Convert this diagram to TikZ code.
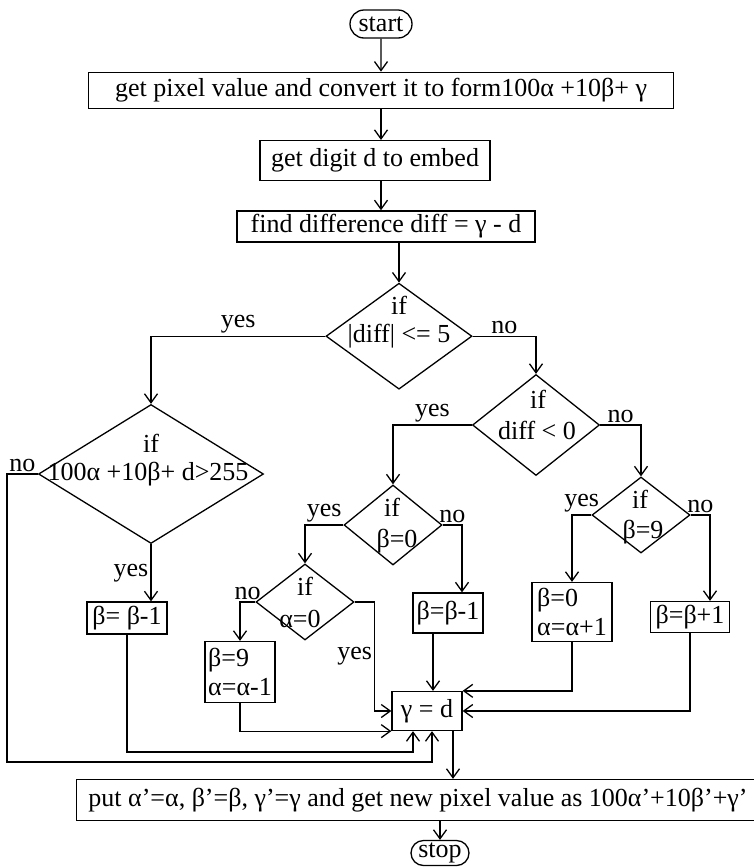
\documentclass[tikz,border=0pt]{standalone}
\usepackage{fontspec}
\setmainfont{Liberation Serif}
\usetikzlibrary{shapes.geometric,shapes.misc,arrows.meta,positioning,calc}

\begin{document}
\begin{tikzpicture}[
    x=1pt, y=-1pt,
    font=\fontsize{26}{29}\selectfont,
    box/.style={rectangle, draw, line width=1.3pt, inner sep=2pt, minimum height=32pt},
    term/.style={rounded rectangle, draw, line width=1.3pt, inner sep=2pt, minimum height=28pt},
    decision/.style={diamond, draw, line width=1.3pt, inner sep=0pt},
    cond/.style={inner sep=0pt},
    lbl/.style={inner sep=2pt},
    arrow/.style={-{Straight Barb[length=9pt,width=13pt]}, line width=1.3pt}
]
    \useasboundingbox (0,0) rectangle (754,868);

    % main column
    \node[term, minimum width=66pt] (start) at (381,24) {start};
    \node[box, below=33pt of start, minimum width=585pt, minimum height=36pt] (pixel) {get pixel value and convert it to form100α +10β+ γ};
    \node[box, below=31pt of pixel, xshift=-6pt, minimum width=230pt, minimum height=40pt] (digit) {get digit d to embed};
    \node[box, below=29pt of digit, xshift=11pt, minimum width=298pt, minimum height=31pt] (diff) {find difference diff = γ - d};
    \node[decision, below=40pt of diff, xshift=13pt, minimum width=146pt, minimum height=106pt] (small) {};
    \node[cond] (smallif) at ($(small)+(0,-31)$) {if};
    \node[cond] (smalltxt) at (small) {|diff| <= 5};

    % decisions
    \node[decision, minimum width=225pt, minimum height=139pt] (big) at (151,474) {};
    \node[cond] (bigif) at (151,443) {if};
    \node[cond] (bigtxt) at (148,474) {100α +10β+ d>255};
    \node[decision, minimum width=127pt, minimum height=101pt] (neg) at (536,425) {};
    \node[cond] (negif) at (538,399) {if};
    \node[cond] (negtxt) at (537,430) {diff < 0};
    \node[decision, minimum width=98pt, minimum height=80pt] (bzero) at (393,525) {};
    \node[cond] (bzeroif) at (392,507) {if};
    \node[cond] (bzerotxt) at (397,541) {β=0};
    \node[decision, minimum width=98pt, minimum height=76pt] (bnine) at (641,515) {};
    \node[cond] (bnineif) at (640,499) {if};
    \node[cond] (bninetxt) at (643,532) {β=9};
    \node[decision, minimum width=98pt, minimum height=76pt] (azero) at (305,602) {};
    \node[cond] (azeroif) at (305,586) {if};
    \node[cond] (azerotxt) at (300,619) {α=0};

    % assignments
    \node[box, minimum width=80pt] (decl) at (127,618) {β= β-1};
    \node[box, minimum width=70pt, minimum height=40pt] (decm) at (448,613) {β=β-1};
    \node[box, minimum width=70pt, minimum height=61pt, align=left] (wrap) at (240,672) {β=9\\α=α-1};
    \node[box, minimum width=80pt, minimum height=59pt, align=left] (carry) at (572,612) {β=0\\α=α+1};
    \node[box, minimum width=79pt, minimum height=31pt] (inc) at (690,617) {β=β+1};
    \node[box, minimum width=70pt, minimum height=39pt] (embed) at (427,711) {γ = d};
    \node[box, minimum width=683pt, minimum height=41pt] (newpix) at (418,800) {put α’=α, β’=β, γ’=γ and get new pixel value as 100α’+10β’+γ’};
    \node[term, minimum width=62pt, minimum height=25pt] (stop) at (440,853) {stop};

    \coordinate (lane1) at (0,752);
    \coordinate (lane2) at (0,762);
    \coordinate (in1) at ([xshift=-14pt]embed.south);
    \coordinate (in2) at ([xshift=5pt]embed.south);

    \draw[arrow] (start) -- (pixel);
    \draw[arrow] (pixel.south) -- (pixel.south |- digit.north);
    \draw[arrow] (pixel.south |- digit.south) -- (pixel.south |- diff.north);
    \draw[arrow] (small.north |- diff.south) -- (small.north);
    \draw[arrow] (small.west) -| (big.north) node[lbl, pos=0.25, above] (y1) {yes};
    \draw[arrow] (small.east) -| (neg.north) node[lbl, pos=0.25, above] (n1) {no};
    \draw[arrow] (big.south) -- (big.south |- decl.north) node[lbl, midway, left] (y2) {yes};
    \draw[arrow] (big.west) -- ++(-31,0) node[lbl, midway, above] (n2) {no} |- (in2 |- lane2) -- (in2);
    \draw[arrow] (decl.south) |- (in1 |- lane1) -- (in1);
    \draw[arrow] (neg.west) -| (bzero.north) node[lbl, pos=0.25, above] (y3) {yes};
    \draw[arrow] (neg.east) -| (bnine.north) node[lbl, pos=0.25, above] (n3) {no};
    \draw[arrow] (bzero.west) -| (azero.north) node[lbl, pos=0.25, above] (y4) {yes};
    \draw[arrow] (bzero.east) -| ([xshift=14pt]decm.north) node[lbl, pos=0.25, above] (n4) {no};
    \draw[arrow] (bnine.west) -| (carry.north) node[lbl, pos=0.25, above] (y5) {yes};
    \draw[arrow] (bnine.east) -| ([xshift=20pt]inc.north) node[lbl, pos=0.25, above] (n5) {no};
    \draw[arrow] (azero.west) -| (wrap.north) node[lbl, pos=0.25, above] (n6) {no};
    \draw[arrow] (azero.east) -- ++(20,0) |- (embed.west) node[lbl, pos=0.25, left] (y6) {yes};
    \draw[arrow] ([xshift=-15pt]decm.south) -- ([xshift=-15pt]decm.south |- embed.north);
    \draw[arrow] (wrap.south) |- (embed.south west);
    \draw[arrow] (carry.south) |- (embed.north east);
    \draw[arrow] (inc.south) |- (embed.east);
    \draw[arrow] ([xshift=26pt]embed.south) -- ([xshift=26pt]embed.south |- newpix.north);
    \draw[arrow] (stop |- newpix.south) -- (stop.north);
\end{tikzpicture}
\end{document}
